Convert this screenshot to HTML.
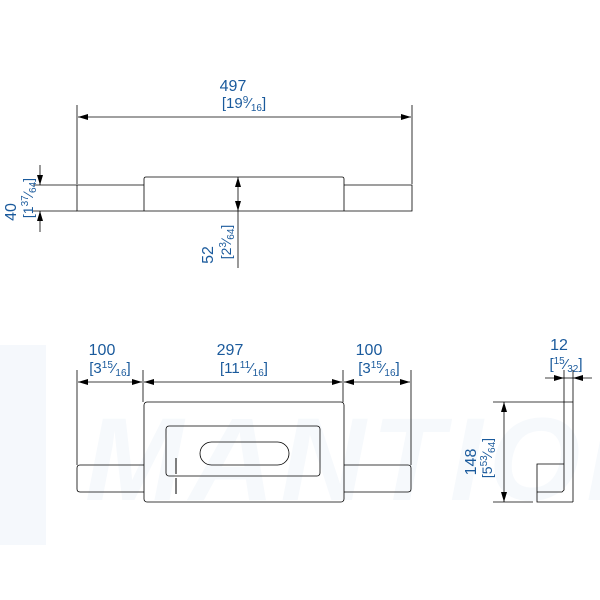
<!DOCTYPE html>
<html><head><meta charset="utf-8"><style>
html,body{margin:0;padding:0;background:#fff}
svg{display:block}
text{font-family:"Liberation Sans",sans-serif;fill:#1a5a9c}
</style></head><body>
<svg width="600" height="600" viewBox="0 0 600 600" xmlns="http://www.w3.org/2000/svg">
<defs>
<marker id="a" viewBox="0 0 10 6" refX="10" refY="3" markerWidth="10" markerHeight="6" orient="auto-start-reverse" markerUnits="userSpaceOnUse"><path d="M0,0 L10,3 L0,6 z" fill="#000"/></marker>
</defs>
<!-- watermark -->
<rect x="0" y="345" width="46" height="200" fill="#f5f8fc"/>
<text x="85" y="500" font-size="118" font-style="italic" font-weight="bold" style="fill:#f6f9fc" letter-spacing="6">MANTION</text>
<g stroke="#000" stroke-width="0.8" fill="none">
<!-- top view -->
<line x1="77" y1="105" x2="77" y2="184"/>
<line x1="412" y1="105" x2="412" y2="184"/>
<line x1="78" y1="117" x2="411" y2="117" marker-start="url(#a)" marker-end="url(#a)"/>
<path d="M144,185 H77 V211 H412 V185 H344"/>
<path d="M144,211 V179 Q144,177 146,177 H342 Q344,177 344,179 V211"/>
<line x1="33" y1="185" x2="77" y2="185"/>
<line x1="33" y1="211" x2="77" y2="211"/>
<line x1="40" y1="165" x2="40" y2="185" marker-end="url(#a)"/>
<line x1="40" y1="232" x2="40" y2="211" marker-end="url(#a)"/>
<line x1="238" y1="177" x2="238" y2="211" marker-start="url(#a)" marker-end="url(#a)"/>
<line x1="238" y1="211" x2="238" y2="268"/>
<!-- front view -->
<line x1="77" y1="370" x2="77" y2="465"/>
<line x1="143" y1="370" x2="143" y2="402"/>
<line x1="343" y1="370" x2="343" y2="402"/>
<line x1="411" y1="370" x2="411" y2="465"/>
<line x1="78" y1="382" x2="142" y2="382" marker-start="url(#a)" marker-end="url(#a)"/>
<line x1="144" y1="382" x2="342" y2="382" marker-start="url(#a)" marker-end="url(#a)"/>
<line x1="344" y1="382" x2="410" y2="382" marker-start="url(#a)" marker-end="url(#a)"/>
<rect x="144" y="402" width="200" height="100" rx="3"/>
<rect x="166" y="426" width="154" height="50" rx="3"/>
<rect x="200" y="442" width="89" height="23" rx="11.5"/>
<path d="M144,465 H80 Q77,465 77,468 V489 Q77,492 80,492 H144"/>
<path d="M344,465 H408 Q411,465 411,468 V489 Q411,492 408,492 H344"/>
<line x1="176" y1="458" x2="176" y2="474" stroke-width="1.5" stroke="#555"/>
<line x1="176" y1="478" x2="176" y2="494" stroke-width="1.5" stroke="#555"/>
<!-- side view -->
<line x1="564" y1="370" x2="564" y2="464"/>
<line x1="573" y1="370" x2="573" y2="502"/>
<line x1="545" y1="378" x2="564" y2="378" marker-end="url(#a)"/>
<line x1="592" y1="378" x2="573" y2="378" marker-end="url(#a)"/>
<line x1="564" y1="378" x2="573" y2="378"/>
<line x1="493" y1="402" x2="573" y2="402"/>
<line x1="504" y1="402" x2="504" y2="502" marker-start="url(#a)" marker-end="url(#a)"/>
<line x1="493" y1="502" x2="533" y2="502"/>
<path d="M564,464 H537 V502 H573"/>
<path d="M537,492 H562 L564,490 V464"/>
</g>
<!-- labels -->
<text x="233" y="91" font-size="16" text-anchor="middle">497</text>
<text x="244" y="108" font-size="15" text-anchor="middle">[19<tspan font-size="10" dy="-5">9</tspan><tspan dy="5">⁄</tspan><tspan font-size="10" dy="3">16</tspan><tspan dy="-3">]</tspan></text>
<g transform="translate(16,198) rotate(-90)"><text x="0" y="0" font-size="16" text-anchor="middle" dx="-14">40</text></g>
<g transform="translate(33,198) rotate(-90)"><text x="0" y="0" font-size="14" text-anchor="middle">[1<tspan font-size="10" dy="-5">37</tspan><tspan dy="5">⁄</tspan><tspan font-size="10" dy="3">64</tspan><tspan dy="-3">]</tspan></text></g>
<g transform="translate(213,255) rotate(-90)"><text x="0" y="0" font-size="16" text-anchor="middle">52</text></g>
<g transform="translate(231,242) rotate(-90)"><text x="0" y="0" font-size="14" text-anchor="middle">[2<tspan font-size="10" dy="-5">3</tspan><tspan dy="5">⁄</tspan><tspan font-size="10" dy="3">64</tspan><tspan dy="-3">]</tspan></text></g>
<text x="102" y="355" font-size="16" text-anchor="middle">100</text>
<text x="110" y="373" font-size="15" text-anchor="middle">[3<tspan font-size="10" dy="-5">15</tspan><tspan dy="5">⁄</tspan><tspan font-size="10" dy="3">16</tspan><tspan dy="-3">]</tspan></text>
<text x="230" y="355" font-size="16" text-anchor="middle">297</text>
<text x="244" y="373" font-size="15" text-anchor="middle">[11<tspan font-size="10" dy="-5">11</tspan><tspan dy="5">⁄</tspan><tspan font-size="10" dy="3">16</tspan><tspan dy="-3">]</tspan></text>
<text x="369" y="355" font-size="16" text-anchor="middle">100</text>
<text x="379" y="373" font-size="15" text-anchor="middle">[3<tspan font-size="10" dy="-5">15</tspan><tspan dy="5">⁄</tspan><tspan font-size="10" dy="3">16</tspan><tspan dy="-3">]</tspan></text>
<text x="559" y="350" font-size="16" text-anchor="middle">12</text>
<text x="566" y="369" font-size="15" text-anchor="middle">[<tspan font-size="10" dy="-5">15</tspan><tspan dy="5">⁄</tspan><tspan font-size="10" dy="3">32</tspan><tspan dy="-3">]</tspan></text>
<g transform="translate(476,462) rotate(-90)"><text x="0" y="0" font-size="16" text-anchor="middle">148</text></g>
<g transform="translate(492,458) rotate(-90)"><text x="0" y="0" font-size="14" text-anchor="middle">[5<tspan font-size="10" dy="-5">53</tspan><tspan dy="5">⁄</tspan><tspan font-size="10" dy="3">64</tspan><tspan dy="-3">]</tspan></text></g>
</svg>
</body></html>
